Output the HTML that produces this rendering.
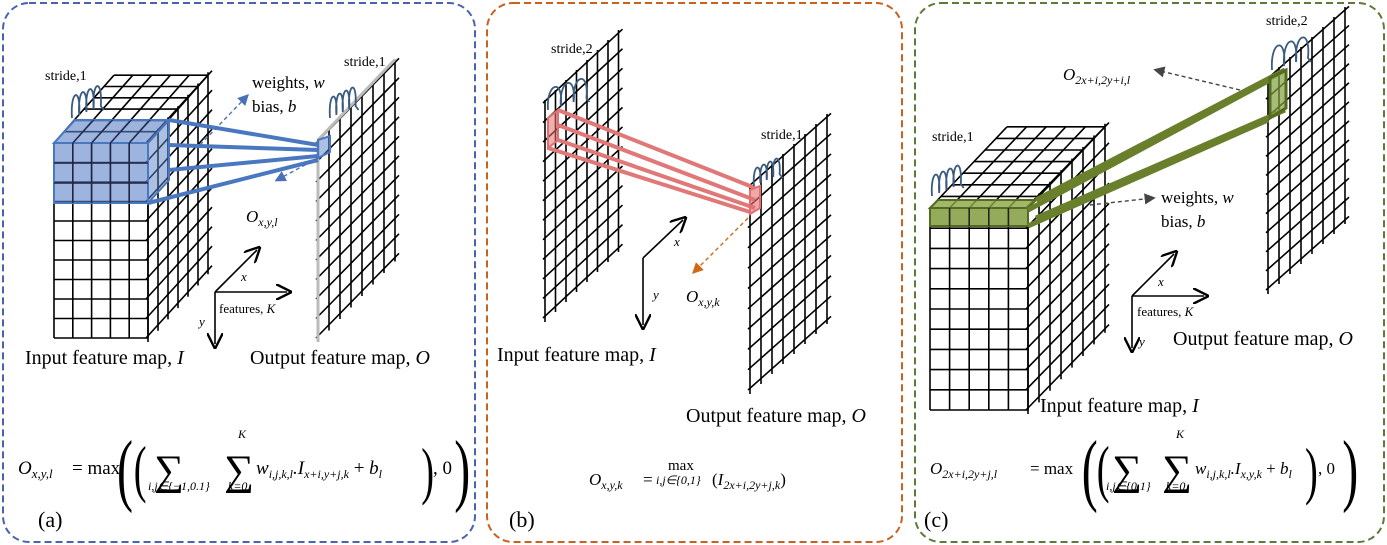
<!DOCTYPE html>
<html><head><meta charset="utf-8"><style>
html,body{margin:0;padding:0;background:#fff}
svg{display:block}
text{font-family:"Liberation Serif",serif;fill:#000}
.it{font-style:italic}
</style></head><body>
<svg id="s" width="1387" height="545" viewBox="0 0 1387 545" xmlns="http://www.w3.org/2000/svg">
<defs>
<marker id="ab" markerWidth="8" markerHeight="8" refX="6" refY="4" orient="auto"><path d="M0,0 L8,4 L0,8 z" fill="#4a70b8"/></marker>
<marker id="ao" markerWidth="8" markerHeight="8" refX="6" refY="4" orient="auto"><path d="M0,0 L8,4 L0,8 z" fill="#d06a1a"/></marker>
<marker id="ag" markerWidth="8" markerHeight="8" refX="6" refY="4" orient="auto"><path d="M0,0 L8,4 L0,8 z" fill="#444"/></marker>
<marker id="ak" markerWidth="10" markerHeight="10" refX="7" refY="5" orient="auto"><path d="M0,0 L10,5 L0,10" fill="none" stroke="#000" stroke-width="1.5"/></marker>
</defs>
<rect x="3" y="3" width="472" height="539" rx="26" fill="none" stroke="#4a62b0" stroke-width="2" stroke-dasharray="7,4"/>
<rect x="487" y="3" width="415" height="539" rx="26" fill="none" stroke="#c8621e" stroke-width="2" stroke-dasharray="7,4"/>
<rect x="915" y="3" width="469" height="539" rx="26" fill="none" stroke="#5e7a3a" stroke-width="2" stroke-dasharray="7,4"/>
<g id="g" stroke="#000" stroke-width="1.6" fill="none"></g>
<g id="hl"></g>

<!-- panel a texts -->
<text x="45" y="80" font-size="14">stride,1</text>
<text x="344" y="66" font-size="14">stride,1</text>
<text x="252" y="88" font-size="17">weights, <tspan class="it">w</tspan></text>
<text x="252" y="112" font-size="17">bias, <tspan class="it">b</tspan></text>
<text x="246" y="222" font-size="17" class="it">O<tspan font-size="12" dy="4">x,y,l</tspan></text>
<text x="241" y="281" font-size="13" class="it">x</text>
<text x="219" y="313" font-size="13">features, <tspan class="it">K</tspan></text>
<text x="199" y="326" font-size="13" class="it">y</text>
<text x="25" y="364" font-size="20">Input feature map, <tspan class="it">I</tspan></text>
<text x="250" y="364" font-size="20">Output feature map, <tspan class="it">O</tspan></text>
<text x="18" y="474" font-size="19" class="it">O<tspan font-size="13" dy="4">x,y,l</tspan></text>
<text x="72" y="474" font-size="19">= max</text>
<text x="117" y="496" font-size="80" transform="scale(0.6,1) translate(78,0)">(</text>
<text x="128" y="490" font-size="64" transform="scale(0.6,1) translate(95,0)">(</text>
<text x="154" y="484" font-size="42">∑</text>
<text x="148" y="490" font-size="12" class="it">i,j∈{−1,0.1}</text>
<text x="224" y="484" font-size="42">∑</text>
<text x="238" y="438" font-size="12" class="it">K</text>
<text x="228" y="490" font-size="12" class="it">k=0</text>
<text x="256" y="474" font-size="19" class="it">w<tspan font-size="12" dy="4">i,j,k,l</tspan><tspan dy="-4">.I</tspan><tspan font-size="12" dy="4">x+i,y+j,k</tspan><tspan dy="-4" font-style="normal"> + </tspan>b<tspan font-size="12" dy="4">l</tspan></text>
<text x="702" y="492" font-size="64" transform="scale(0.6,1)">)</text>
<text x="433" y="474" font-size="19">, 0</text>
<text x="757" y="496" font-size="80" transform="scale(0.6,1)">)</text>
<text x="38" y="527" font-size="22">(a)</text>

<!-- panel b -->
<text x="551" y="53" font-size="14">stride,2</text>
<text x="761" y="139" font-size="14">stride,1</text>
<text x="674" y="246" font-size="13" class="it">x</text>
<text x="653" y="299" font-size="13" class="it">y</text>
<text x="686" y="302" font-size="17" class="it">O<tspan font-size="12" dy="4">x,y,k</tspan></text>
<text x="497" y="361" font-size="20">Input feature map, <tspan class="it">I</tspan></text>
<text x="686" y="422" font-size="20">Output feature map, <tspan class="it">O</tspan></text>
<text x="589" y="485" font-size="17" class="it">O<tspan font-size="12" dy="4">x,y,k</tspan></text>
<text x="643" y="485" font-size="17">=</text>
<text x="668" y="470" font-size="15">max</text>
<text x="656" y="484" font-size="12" class="it">i,j∈{0,1}</text>
<text x="712" y="485" font-size="17">(<tspan class="it">I</tspan><tspan font-size="12" dy="4" class="it">2x+i,2y+j,k</tspan><tspan dy="-4">)</tspan></text>
<text x="509" y="527" font-size="22">(b)</text>

<!-- panel c -->
<text x="1266" y="25" font-size="14">stride,2</text>
<text x="1063" y="80" font-size="17" class="it">O<tspan font-size="12" dy="4">2x+i,2y+i,l</tspan></text>
<text x="932" y="141" font-size="14">stride,1</text>
<text x="1161" y="203" font-size="17">weights, <tspan class="it">w</tspan></text>
<text x="1161" y="227" font-size="17">bias, <tspan class="it">b</tspan></text>
<text x="1158" y="286" font-size="13" class="it">x</text>
<text x="1137" y="316" font-size="13">features, <tspan class="it">K</tspan></text>
<text x="1139" y="346" font-size="13" class="it">y</text>
<text x="1173" y="345" font-size="20">Output feature map, <tspan class="it">O</tspan></text>
<text x="1040" y="412" font-size="20">Input feature map, <tspan class="it">I</tspan></text>
<text x="930" y="474" font-size="17" class="it">O<tspan font-size="12" dy="4">2x+i,2y+j,l</tspan></text>
<text x="1030" y="474" font-size="17">= max</text>
<text x="1803" y="496" font-size="80" transform="scale(0.6,1)">(</text>
<text x="1828" y="490" font-size="64" transform="scale(0.6,1)">(</text>
<text x="1112" y="484" font-size="42">∑</text>
<text x="1106" y="490" font-size="12" class="it">i,j∈{0,1}</text>
<text x="1162" y="484" font-size="42">∑</text>
<text x="1176" y="438" font-size="12" class="it">K</text>
<text x="1166" y="490" font-size="12" class="it">k=0</text>
<text x="1195" y="474" font-size="17" class="it">w<tspan font-size="12" dy="4">i,j,k,l</tspan><tspan dy="-4">.I</tspan><tspan font-size="12" dy="4">x,y,k</tspan><tspan dy="-4" font-style="normal"> + </tspan>b<tspan font-size="12" dy="4">l</tspan></text>
<text x="2175" y="492" font-size="64" transform="scale(0.6,1)">)</text>
<text x="1318" y="474" font-size="17">, 0</text>
<text x="2237" y="496" font-size="80" transform="scale(0.6,1)">)</text>
<text x="924" y="527" font-size="22">(c)</text>
</svg>
<script>
var NS="http://www.w3.org/2000/svg",G=document.getElementById('g'),H=document.getElementById('hl');
function L(p,x1,y1,x2,y2,a){var e=document.createElementNS(NS,'line');e.setAttribute('x1',x1);e.setAttribute('y1',y1);e.setAttribute('x2',x2);e.setAttribute('y2',y2);for(var k in a||{})e.setAttribute(k,a[k]);p.appendChild(e);return e;}
function P(p,d,a){var e=document.createElementNS(NS,'path');e.setAttribute('d',d);for(var k in a)e.setAttribute(k,a[k]);p.appendChild(e);return e;}
function plane(x,y,h,n,dx,dy,m){for(var i=0;i<=n;i++)L(G,x+i*dx,y+i*dy-h-3,x+i*dx,y+i*dy+4);for(var j=0;j<=m;j++){var yy=y-h+j*h/m;L(G,x-2,yy,x+n*dx+4,yy+n*dy+4*dy/dx);}}
function cube(x,y,w,h,c,r,n,dx,dy){var cw=w/c;for(var i=0;i<=c;i++){L(G,x+i*cw,y,x+i*cw,y+h);L(G,x+i*cw,y,x+i*cw+n*dx,y+n*dy);}for(var j=0;j<=r;j++)L(G,x,y+j*h/r,x+w,y+j*h/r);for(var k=1;k<=n;k++)L(G,x+k*dx,y+k*dy,x+w+k*dx,y+k*dy);plane(x+w,y+h,h,n,dx,dy,r);}
// panel a
cube(54,143,94,195,5,10,6,10,-11.3);
plane(318,338,195,7,11,-11.5,10);
L(G,318,140,318+77,140-80.5,{stroke:'#bbb','stroke-width':3});L(G,318,140,318,342,{stroke:'#bbb','stroke-width':3});
P(H,'M54,143 L148,143 L148,203 L54,203 Z',{fill:'rgba(90,130,200,0.6)',stroke:'#4a78c0','stroke-width':2});
P(H,'M54,143 L75,120 L169,120 L148,143 Z',{fill:'rgba(90,130,200,0.6)',stroke:'#4a78c0','stroke-width':2});
P(H,'M148,143 L169,120 L169,180 L148,203 Z',{fill:'rgba(90,130,200,0.5)',stroke:'#4a78c0','stroke-width':2});
for(var i=1;i<5;i++){L(H,54+i*18.8,143,54+i*18.8,203,{stroke:'#224','stroke-width':1.5});L(H,54+i*18.8,143,75+i*18.8,120,{stroke:'#224','stroke-width':1.2});}
L(H,54,163,148,163,{stroke:'#224','stroke-width':1.5});L(H,54,183,148,183,{stroke:'#224','stroke-width':1.5});
[[169,120,318,145],[169,145,318,150],[169,170,318,156],[148,203,318,160]].forEach(function(q){L(H,q[0],q[1],q[2],q[3],{stroke:'#4a78c0','stroke-width':4});});
P(H,'M318,140 L330,136 L330,152 L318,158 Z',{fill:'rgba(90,130,200,0.5)',stroke:'#4a78c0','stroke-width':2});
L(H,200,145,247,96,{stroke:'#4a70b8','stroke-width':1.4,'stroke-dasharray':'4,3','marker-end':'url(#ab)'});
L(H,318,158,277,180,{stroke:'#4a70b8','stroke-width':1.4,'stroke-dasharray':'4,3','marker-end':'url(#ab)'});
// panel b
plane(545,318,215,7,10.5,-10,11);
plane(750,390,203,7,11,-10,10);
P(H,'M548,118 L558,110 L558,140 L548,148 Z',{fill:'rgba(230,110,110,0.55)',stroke:'#e07070','stroke-width':2});
[[558,110,755,188],[558,125,755,200],[558,140,755,208],[548,148,750,212]].forEach(function(q){L(H,q[0],q[1],q[2],q[3],{stroke:'#e07878','stroke-width':4});});
P(H,'M750,190 L760,186 L760,208 L750,214 Z',{fill:'rgba(230,110,110,0.6)',stroke:'#e07070','stroke-width':2});
L(H,748,218,694,272,{stroke:'#d06a1a','stroke-width':1.4,'stroke-dasharray':'4,3','marker-end':'url(#ao)'});
// panel c
cube(930,208,98,202,5,10,7,11,-11.6);
plane(1268,290,210,7,11,-10,11);
P(H,'M930,208 L1028,208 L1028,226 L930,226 Z',{fill:'rgba(120,150,50,0.8)',stroke:'#556b22','stroke-width':2});
P(H,'M930,208 L938,200 L1036,200 L1028,208 Z',{fill:'rgba(140,165,70,0.8)',stroke:'#556b22','stroke-width':2});
for(var i=1;i<5;i++)L(H,930+i*19.6,208,930+i*19.6,226,{stroke:'#222','stroke-width':1.5});
[[1036,200,1285,70],[1028,210,1270,80],[1036,218,1285,110],[1028,226,1268,120]].forEach(function(q){L(H,q[0],q[1],q[2],q[3],{stroke:'#6a7f2c','stroke-width':5});});
P(H,'M1270,78 L1286,70 L1286,108 L1270,118 Z',{fill:'rgba(130,160,60,0.7)',stroke:'#556b22','stroke-width':3});
L(H,1240,90,1156,70,{stroke:'#444','stroke-width':1.4,'stroke-dasharray':'4,3','marker-end':'url(#ag)'});
L(H,1090,205,1153,198,{stroke:'#444','stroke-width':1.4,'stroke-dasharray':'4,3','marker-end':'url(#ag)'});
// axes
function ax(x,y){L(G,x,y,x+42,y-42,{'marker-end':'url(#ak)'});L(G,x,y,x+72,y,{'marker-end':'url(#ak)'});L(G,x,y,x,y+52,{'marker-end':'url(#ak)'});}
ax(215,292);ax(1132,296);
L(G,643,258,683,220,{'marker-end':'url(#ak)'});L(G,643,258,643,325,{'marker-end':'url(#ak)'});
// stride squiggles: loops rising up-right
function sq(x,y,n,w,h,rise){var d='M'+x+','+y;var cx=x,cy=y;for(var i=0;i<n;i++){d+=' C'+(cx-2)+','+(cy-h)+' '+(cx+w)+','+(cy-h-4)+' '+(cx+w*0.8)+','+(cy-rise);cx+=w*0.8;cy-=rise;}d+=' l3,4';P(H,d,{fill:'none',stroke:'#3a5a80','stroke-width':1.8});}
sq(72,118,4,9,28,3);sq(330,118,4,8,26,3);sq(548,110,3,16,28,4);sq(754,186,4,8,22,3);sq(932,196,4,9,26,3);sq(1272,70,3,15,30,4);
</script>
</body></html>
